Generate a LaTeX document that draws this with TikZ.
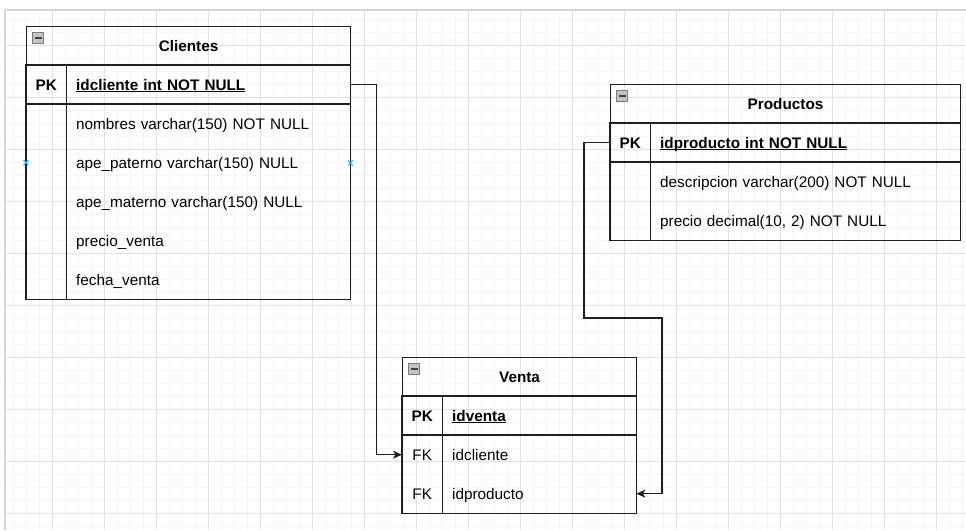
\documentclass[tikz,border=0pt]{standalone}
\usepackage{fontspec}
\setmainfont{Liberation Sans}
\usetikzlibrary{arrows.meta}

\definecolor{tabline}{HTML}{1F1F1F}
\definecolor{gridminor}{HTML}{F4F4F4}
\definecolor{gridmajor}{HTML}{E2E2E2}
\definecolor{framegray}{HTML}{D4D4D4}
\definecolor{iconfill}{HTML}{C4C4C4}
\definecolor{icongray}{HTML}{7A7A7A}
\definecolor{hoverblue}{HTML}{29B6F2}

\newcommand{\keyline}[1]{\underline{\smash{#1}}}

\tikzset{
  every node/.style={font=\fontsize{15.3}{18}\selectfont, text=black},
  tableline/.style={draw=tabline, line width=1.1pt},
  headcell/.style={tableline, anchor=north west, minimum height=39pt, inner sep=0pt,
    text height=11pt, text depth=0pt, font=\fontsize{15.3}{18}\selectfont\bfseries},
  keycell/.style={anchor=north west, minimum width=40pt, minimum height=39pt, inner sep=0pt,
    text height=11pt, text depth=0pt},
  fieldcell/.style={anchor=north west, minimum height=39pt, inner xsep=10pt, inner ysep=0pt,
    align=left, text height=11pt, text depth=0pt},
  minusbox/.style={draw=icongray, fill=iconfill, line width=0.7pt, minimum size=11pt, inner sep=0pt,
    path picture={\draw[line width=1.8pt, tabline!85]
      ([xshift=-3.5pt]path picture bounding box.center) -- ([xshift=3.5pt]path picture bounding box.center);}},
  relation/.style={draw=tabline, line width=1.1pt, -{Stealth[length=9pt, width=8pt, inset=2.5pt]}},
  hovermark/.style={draw=hoverblue, line width=1.1pt}
}

\begin{document}
\begin{tikzpicture}[x=1pt, y=-1pt]
  \useasboundingbox (0,0) rectangle (966,530);

  % grid of the canvas
  \begin{scope}
    \clip (5,10) rectangle (966,530);
    \foreach \x in {13,26,...,962} \draw[gridminor, line width=0.9pt] (\x,10) -- (\x,530);
    \foreach \y in {19,32,...,526} \draw[gridminor, line width=0.9pt] (5,\y) -- (966,\y);
    \foreach \x in {52,104,...,936} \draw[gridmajor, line width=0.9pt] (\x,10) -- (\x,530);
    \foreach \y in {45,97,...,513} \draw[gridmajor, line width=0.9pt] (5,\y) -- (966,\y);
  \end{scope}
  \draw[framegray, line width=1.5pt] (5,530) -- (5,10) -- (966,10);

  % table Clientes
  \node[headcell, minimum width=324pt] (cli) at (26,26) {Clientes};
  \node[minusbox] (cli-min) at ([shift={(12,12)}]cli.north west) {};
  \node[keycell] (cli-k0) at (26,65) {\bfseries PK};
  \node[fieldcell, text width=264pt] (cli-f0) at (66,65) {\bfseries\keyline{idcliente int NOT NULL}};
  \foreach \f [count=\i] in {nombres varchar(150) NOT NULL, ape\_paterno varchar(150) NULL,
      ape\_materno varchar(150) NULL, precio\_venta, fecha\_venta} {
    \node[keycell] (cli-k\i) at (26,65+39*\i) {};
    \node[fieldcell, text width=264pt] (cli-f\i) at (66,65+39*\i) {\f};
  }
  \draw[tableline] (cli-k0.north west) rectangle (cli-f0.south east);
  \draw[tableline] (cli-k1.north west) rectangle (cli-f5.south east);
  \draw[tableline] (cli-k0.north east) -- (cli-k5.south east);

  % table Productos
  \node[headcell, minimum width=350pt] (pro) at (610,84) {Productos};
  \node[minusbox] (pro-min) at ([shift={(12,12)}]pro.north west) {};
  \node[keycell] (pro-k0) at (610,123) {\bfseries PK};
  \node[fieldcell, text width=290pt] (pro-f0) at (650,123) {\bfseries\keyline{idproducto int NOT NULL}};
  \foreach \f [count=\i] in {descripcion varchar(200) NOT NULL, {precio decimal(10, 2) NOT NULL}} {
    \node[keycell] (pro-k\i) at (610,123+39*\i) {};
    \node[fieldcell, text width=290pt] (pro-f\i) at (650,123+39*\i) {\f};
  }
  \draw[tableline] (pro-k0.north west) rectangle (pro-f0.south east);
  \draw[tableline] (pro-k1.north west) rectangle (pro-f2.south east);
  \draw[tableline] (pro-k0.north east) -- (pro-k2.south east);

  % table Venta
  \node[headcell, minimum width=234pt] (ven) at (402,357) {Venta};
  \node[minusbox] (ven-min) at ([shift={(12,12)}]ven.north west) {};
  \node[keycell] (ven-k0) at (402,396) {\bfseries PK};
  \node[fieldcell, text width=174pt] (ven-f0) at (442,396) {\bfseries\keyline{idventa}};
  \foreach \f [count=\i] in {idcliente, idproducto} {
    \node[keycell] (ven-k\i) at (402,396+39*\i) {FK};
    \node[fieldcell, text width=174pt] (ven-f\i) at (442,396+39*\i) {\f};
  }
  \draw[tableline] (ven-k0.north west) rectangle (ven-f0.south east);
  \draw[tableline] (ven-k1.north west) rectangle (ven-f2.south east);
  \draw[tableline] (ven-k0.north east) -- (ven-k2.south east);

  % relations
  \coordinate (bend) at (662,318);
  \draw[relation] (cli-f0.east) -- ++(26,0) |- (ven-k1.west);
  \draw[relation] (pro-k0.west) -- ++(-26,0) |- (bend) |- (ven-f2.east);

  % hover marks on Clientes
  \foreach \m in {cli-k2.west, cli-f2.east}
    \draw[hovermark] ([shift={(-2.5,-2.5)}]\m) -- ([shift={(2.5,2.5)}]\m)
                     ([shift={(-2.5,2.5)}]\m) -- ([shift={(2.5,-2.5)}]\m);
\end{tikzpicture}
\end{document}
